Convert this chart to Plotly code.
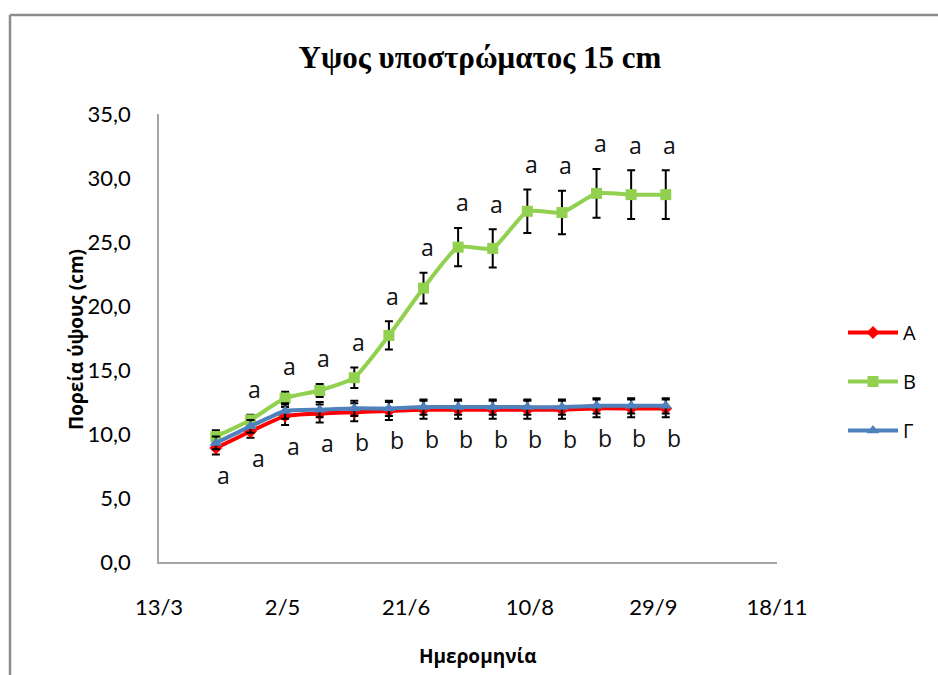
import plotly.graph_objects as go

# Measurement dates (every two weeks)
dates = ["2010-04-05", "2010-04-19", "2010-05-03", "2010-05-17", "2010-05-31",
         "2010-06-14", "2010-06-28", "2010-07-12", "2010-07-26", "2010-08-09",
         "2010-08-23", "2010-09-06", "2010-09-20", "2010-10-04"]

# Mean plant height (cm) per treatment
height_A = [8.9, 10.2, 11.4, 11.6, 11.7, 11.8, 11.9, 11.9, 11.9, 11.9, 11.9, 12.0, 12.0, 12.0]
height_B = [9.8, 11.1, 12.8, 13.4, 14.4, 17.7, 21.4, 24.6, 24.5, 27.4, 27.3, 28.8, 28.7, 28.7]
height_G = [9.3, 10.6, 11.8, 11.9, 12.0, 12.0, 12.1, 12.1, 12.1, 12.1, 12.1, 12.2, 12.2, 12.2]

# Standard errors
err_A = [0.5, 0.5, 0.7, 0.7, 0.7, 0.7, 0.7, 0.7, 0.7, 0.7, 0.7, 0.7, 0.7, 0.7]
err_B = [0.5, 0.4, 0.5, 0.5, 0.8, 1.1, 1.2, 1.5, 1.5, 1.7, 1.7, 1.9, 1.9, 1.9]
err_G = [0.5, 0.5, 0.6, 0.6, 0.6, 0.6, 0.6, 0.6, 0.6, 0.6, 0.6, 0.6, 0.6, 0.6]

# Significance letters (upper: treatment B, lower: treatments A and Γ)
letters_upper = ["", "a", "a", "a", "a", "a", "a", "a", "a", "a", "a", "a", "a", "a"]
letters_lower = ["a", "a", "a", "a", "b", "b", "b", "b", "b", "b", "b", "b", "b", "b"]

# Date axis ticks
tick_dates = ["2010-03-13", "2010-05-02", "2010-06-21", "2010-08-10", "2010-09-29", "2010-11-18"]
tick_labels = ["13/3", "2/5", "21/6", "10/8", "29/9", "18/11"]

y_ticks = [0, 5, 10, 15, 20, 25, 30, 35]
y_labels = ["0,0", "5,0", "10,0", "15,0", "20,0", "25,0", "30,0", "35,0"]

W, H = 938, 675
L, R, T, B = 159, 161, 114, 113
pw, ph = W - L - R, H - T - B


def px(x):
    return (x - L) / pw


def py(y):
    return (H - B - y) / ph


fig = go.Figure()

series = [
    ("A", height_A, err_A, "#FF0000", "diamond", 10),
    ("B", height_B, err_B, "#92D050", "square", 11),
    ("Γ", height_G, err_G, "#4F81BD", "triangle-up", 11),
]
for name, vals, errs, color, symbol, msize in series:
    fig.add_trace(go.Scatter(
        x=dates, y=vals, name=name, mode="lines+markers",
        line=dict(color=color, width=4, shape="spline", smoothing=0.5),
        marker=dict(symbol=symbol, size=msize, color=color),
        error_y=dict(type="data", array=errs, visible=True,
                     color="#000000", thickness=2, width=4),
        legendgroup=name,
    ))

letter_font = dict(family="Open Sans, sans-serif", size=23, color="#111111")
for d, v, e, t in zip(dates, height_B, err_B, letters_upper):
    if t:
        fig.add_annotation(x=d, y=v + e + 2.0, text=t, showarrow=False,
                           xshift=4, font=letter_font, xanchor="center", yanchor="middle")
for d, v, e, t in zip(dates, height_A, err_A, letters_lower):
    fig.add_annotation(x=d, y=v - e - 1.6, text=t, showarrow=False,
                       xshift=8, font=letter_font, xanchor="center", yanchor="middle")

# Axis titles
title_font = dict(family="Open Sans, sans-serif", size=19, color="#000000")
fig.add_annotation(xref="paper", yref="paper", x=px(478), y=py(656),
                   text="<b>Ημερομηνία</b>", showarrow=False,
                   xanchor="center", yanchor="middle", font=title_font)
fig.add_annotation(xref="paper", yref="paper", x=px(76), y=py(340),
                   text="<b>Πορεία ύψους (cm)</b>", showarrow=False, textangle=-90,
                   xanchor="center", yanchor="middle", font=title_font)

# Chart frame (top and left edges)
gray = "#8C8C8C"
fig.add_shape(type="line", xref="paper", yref="paper",
              x0=px(10), y0=py(15), x1=px(945), y1=py(15), line=dict(color=gray, width=2.5))
fig.add_shape(type="line", xref="paper", yref="paper",
              x0=px(10), y0=py(15), x1=px(10), y1=py(690), line=dict(color=gray, width=2.5))

tick_font = dict(family="Lato, sans-serif", size=22, color="#000000")
fig.update_layout(
    width=W, height=H,
    margin=dict(l=L, r=R, t=T, b=B, pad=0),
    paper_bgcolor="white", plot_bgcolor="white",
    title=dict(text="<b>Υψος υποστρώματος 15 cm</b>", x=480 / W, y=1 - 57 / H,
               xanchor="center", yanchor="middle",
               font=dict(family="Liberation Serif, serif", size=31, color="#000000")),
    xaxis=dict(type="date", range=["2010-03-13", "2010-11-18"],
               tickvals=tick_dates, ticktext=tick_labels, ticks="",
               showgrid=False, zeroline=False, showline=True,
               linecolor="#A6A6A6", linewidth=1.5, tickfont=tick_font,
               ticklabelstandoff=25),
    yaxis=dict(range=[0, 35], tickvals=y_ticks, ticktext=y_labels, ticks="",
               showgrid=False, zeroline=False, showline=True,
               linecolor="#A6A6A6", linewidth=1.5, tickfont=tick_font,
               ticklabelstandoff=22),
    legend=dict(x=px(843), y=py(313), xanchor="left", yanchor="top",
                font=dict(family="Open Sans, sans-serif", size=20, color="#000000"),
                traceorder="grouped", tracegroupgap=20, itemwidth=50,
                bgcolor="rgba(0,0,0,0)"),
    showlegend=True,
)

fig.write_html("out.html")
